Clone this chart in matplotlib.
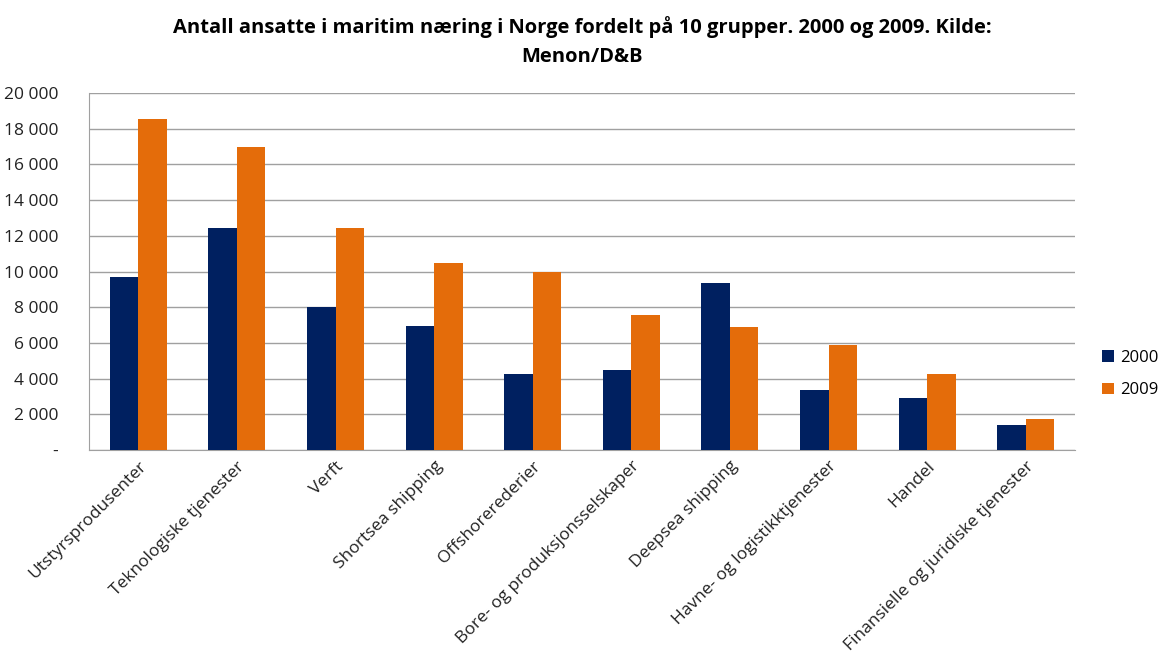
import numpy as np
import matplotlib
matplotlib.use('Agg')
import matplotlib.pyplot as plt
from matplotlib.ticker import FuncFormatter

plt.rcParams['font.family'] = ['Open Sans', 'DejaVu Sans']

# Data
groups = ['Utstyrsprodusenter', 'Teknologiske tjenester', 'Verft', 'Shortsea shipping',
          'Offshorerederier', 'Bore- og produksjonsselskaper', 'Deepsea shipping',
          'Havne- og logistikktjenester', 'Handel', 'Finansielle og juridiske tjenester']
ansatte_2000 = [9700, 12450, 8000, 6950, 4250, 4500, 9330, 3380, 2890, 1400]
ansatte_2009 = [18550, 16950, 12450, 10450, 10000, 7550, 6900, 5880, 4250, 1740]

fig = plt.figure(figsize=(11.64, 6.59), dpi=100)
ax = fig.add_axes([89 / 1164, 1 - 450 / 659, 986 / 1164, 357 / 659])

x = np.arange(len(groups))
w = 0.29
ax.bar(x - w / 2, ansatte_2000, w, color='#002060', label='2000', zorder=3)
ax.bar(x + w / 2, ansatte_2009, w, color='#E46C0A', label='2009', zorder=3)

ax.set_xlim(-0.5, len(groups) - 0.5)
ax.set_ylim(0, 20000)
ax.set_yticks(range(0, 20001, 2000))
ax.yaxis.set_major_formatter(FuncFormatter(
    lambda v, p: '-' if v == 0 else f'{int(v):,}'.replace(',', ' ')))
ax.grid(axis='y', color='#A0A0A0', linewidth=1, zorder=0)

for s in ['top', 'right']:
    ax.spines[s].set_visible(False)
for s in ['left', 'bottom']:
    ax.spines[s].set_color('#A0A0A0')

ax.tick_params(axis='y', length=0, labelsize=12.5, pad=22, colors='#222222')
ax.tick_params(axis='x', length=0, labelsize=12.5, pad=6, colors='#222222')
ax.set_xticks(x)
ax.set_xticklabels(groups, rotation=45, ha='right', rotation_mode='anchor')

ax.set_title('Antall ansatte i maritim næring i Norge fordelt på 10 grupper. 2000 og 2009. Kilde:\nMenon/D&B',
             fontsize=14.5, fontweight='bold', pad=22, linespacing=1.6)

ax.legend(loc='center left', bbox_to_anchor=(1102 / 1164, 1 - 374 / 659),
          bbox_transform=fig.transFigure, borderaxespad=0, borderpad=0,
          frameon=False, fontsize=12, handlelength=0.7, handleheight=0.7,
          labelspacing=1.0, handletextpad=0.4)

fig.savefig('out.png', dpi=100)
